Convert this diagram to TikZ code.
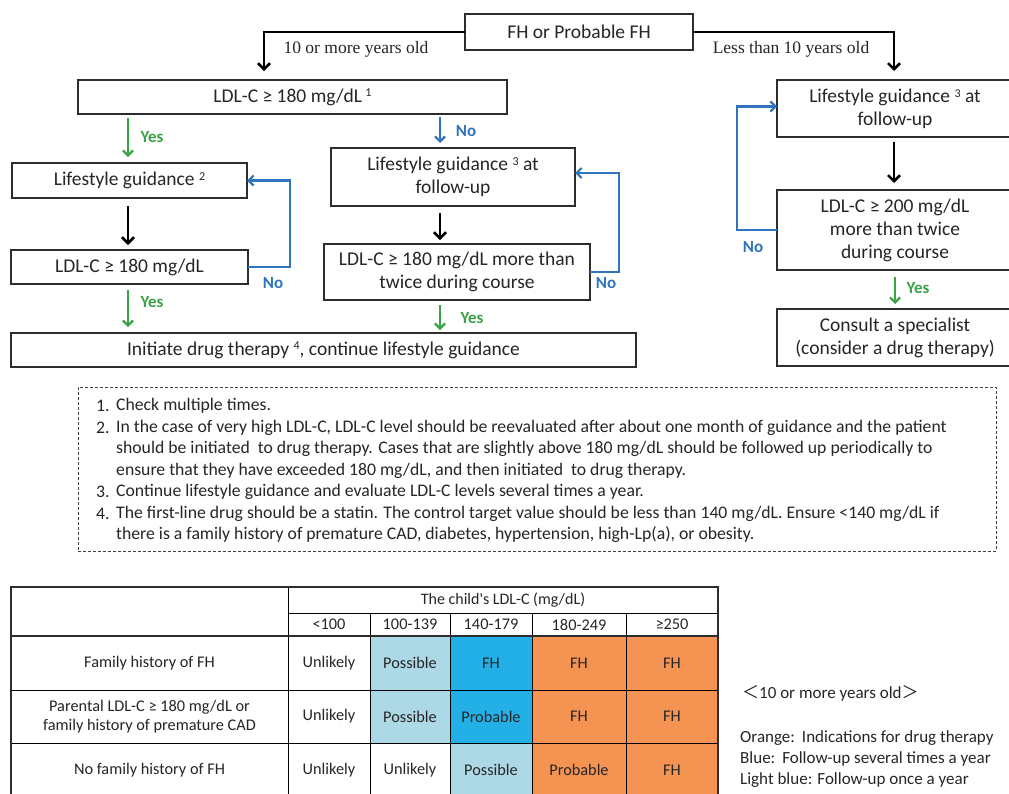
\documentclass[tikz,border=0pt]{standalone}
\usepackage{fontspec}
\setmainfont{Carlito}
\newfontfamily\seriffont{Liberation Serif}
\newfontfamily\cjkfont{Noto Sans CJK JP}
\newfontfamily\rawfont[Ligatures=ResetAll]{Carlito}
\usetikzlibrary{arrows.meta,calc}
\definecolor{ygreen}{RGB}{58,163,72}
\definecolor{nblue}{RGB}{46,117,190}
\definecolor{tlblue}{RGB}{173,216,230}
\definecolor{tblue}{RGB}{34,176,230}
\definecolor{torange}{RGB}{245,147,83}
\definecolor{boxline}{RGB}{45,45,45}
\definecolor{txt}{RGB}{38,38,38}
\newcommand\supr[1]{\raisebox{0.55ex}{\fontsize{12}{12}\selectfont #1}}
\begin{document}
\begin{tikzpicture}[x=1pt,y=-1pt,
  box/.style={draw=boxline, line width=1.1pt, align=center, inner sep=0pt, outer sep=0pt,
    text=txt, font=\fontsize{19.5}{23}\selectfont},
  blk/.style={draw=black, line width=2.5pt, -{Straight Barb[length=6pt,width=12pt]}},
  grn/.style={draw=ygreen, line width=2.2pt, -{Straight Barb[length=5pt,width=10pt]}},
  blu/.style={draw=nblue, line width=2.2pt, -{Straight Barb[length=5pt,width=10pt]}},
  yeslbl/.style={text=ygreen, font=\bfseries\fontsize{17}{17}\selectfont, inner sep=0pt},
  nolbl/.style={text=nblue, font=\bfseries\fontsize{17}{17}\selectfont, inner sep=0pt},
  agelbl/.style={font=\seriffont\fontsize{17.5}{17.5}\selectfont, inner sep=0pt, text=txt},
  note/.style={anchor=west, inner sep=0pt, text=txt, font=\fontsize{17.7}{17.7}\selectfont},
  cell/.style={draw=black, line width=0.6pt, inner sep=0pt, outer sep=0pt, align=center,
    text=txt, font=\fontsize{16.3}{19}\selectfont},
  legend/.style={anchor=west, inner sep=0pt, text=txt, font=\fontsize{17}{17}\selectfont}
]
\useasboundingbox (0,0) rectangle (1009,793);
\fill[white] (0,0) rectangle (1009,793);

% ---------- flowchart boxes ----------
\node[box, minimum width=228, minimum height=36] (top) at (579,32) {FH or Probable FH};
\node[box, minimum width=429, minimum height=34] (A) at (292.5,97) {LDL-C ≥ 180 mg/dL\,\supr{1}};
\node[box, minimum width=235, minimum height=35] (LG2) at (129.5,180.5) {Lifestyle guidance \supr{2}};
\node[box, minimum width=237, minimum height=34] (LDL2) at (129.5,267) {LDL-C ≥ 180 mg/dL};
\node[box, minimum width=244, minimum height=58] (mLG) at (453,177) {Lifestyle guidance \supr{3} at\\follow-up};
\node[box, minimum width=266, minimum height=56] (mLDL) at (457,272) {LDL-C ≥ 180 mg/dL more than\\twice during course};
\node[box, minimum width=625, minimum height=34] (final) at (323.5,350) {Initiate drug therapy \supr{4}, continue lifestyle guidance};
\node[box, minimum width=236, minimum height=57] (rLG) at (895,108.5) {Lifestyle guidance \supr{3} at\\follow-up};
\node[box, minimum width=236, minimum height=80] (rLDL) at (895,230) {LDL-C ≥ 200 mg/dL\\more than twice\\during course};
\node[box, minimum width=236, minimum height=57] (cons) at (895,337.5) {Consult a specialist\\(consider a drug therapy)};

% ---------- connectors ----------
\draw[blk, shorten >=9pt] (top.west) -| (A.north -| 264,0);
\draw[blk, shorten >=9pt] (top.east) -| (rLG.north -| 894,0);
\node[agelbl] (lbl10) at (356,49) {10 or more years old};
\node[agelbl] (lbllt) at (791,49) {Less than 10 years old};

\draw[grn, shorten <=4pt, shorten >=6pt] (A.south -| 128,0) -- (LG2.north -| 128,0);
\node[yeslbl] (y1) at (152,137) {Yes};
\draw[blu, shorten <=3pt, shorten >=5pt] (A.south -| 440,0) -- (mLG.north -| 440,0);
\node[nolbl] (n1) at (466,131) {No};

\draw[blk, shorten <=8pt, shorten >=5pt] (LG2.south -| 128,0) -- (LDL2.north -| 128,0);
\draw[blk, shorten <=7pt, shorten >=4pt] (mLG.south -| 440,0) -- (mLDL.north -| 440,0);
\draw[blk, shorten <=5pt, shorten >=7pt] (rLG.south -| 894,0) -- (rLDL.north -| 894,0);

\draw[blu] (LDL2.east) -- ++(42,0) |- (LG2.east);
\node[nolbl] (n2) at (273,283) {No};
\draw[blu] (mLDL.east) -- ++(29,0) |- ([yshift=4pt]mLG.east);
\node[nolbl] (n3) at (606,283) {No};
\draw[blu] (rLDL.west) -- ++(-40,0) |- ([yshift=2pt]rLG.west);
\node[nolbl] (n4) at (753,247) {No};

\draw[grn, shorten <=6pt, shorten >=6pt] (LDL2.south -| 128,0) -- (final.north -| 128,0);
\node[yeslbl] (y2) at (152,302) {Yes};
\draw[grn, shorten <=5pt, shorten >=3pt] (mLDL.south -| 440,0) -- (final.north -| 440,0);
\node[yeslbl] (y3) at (472,318) {Yes};
\draw[grn, shorten <=7pt, shorten >=5pt] (rLDL.south -| 895,0) -- (cons.north -| 895,0);
\node[yeslbl] (y4) at (918,288) {Yes};

% ---------- notes ----------
\node[draw=black!75, dashed, dash pattern=on 3pt off 2pt, line width=0.8pt, minimum width=918, minimum height=164, inner sep=0pt] (notes) at (537,469) {};
\node[note] (k1) at (96,406) {1.};
\node[note] (t1) at (116,406) {Check multiple times.};
\node[note] (k2) at (96,428) {2.};
\node[note] (t2a) at (116,428) {In the case of very high LDL-C, LDL-C level should be reevaluated after about one month of guidance and the patient};
\node[note] (t2b) at (116,449) {should be initiated\ \ to drug therapy. Cases that are slightly above 180 mg/dL should be followed up periodically to};
\node[note] (t2c) at (116,471) {ensure that they have exceeded 180 mg/dL, and then initiated\ \ to drug therapy.};
\node[note] (k3) at (96,492) {3.};
\node[note] (t3) at (116,492) {Continue lifestyle guidance and evaluate LDL-C levels several times a year.};
\node[note] (k4) at (96,514) {4.};
\node[note] (t4a) at (116,514) {The first-line drug should be a statin. The control target value should be less than 140 mg/dL. Ensure <140 mg/dL if};
\node[note] (t4b) at (116,535) {there is a family history of premature CAD, diabetes, hypertension, high-Lp(a), or obesity.};

% ---------- table ----------
\node[cell, minimum width=277, minimum height=49] (corner) at (149.5,611.5) {};
\node[cell, minimum width=430, minimum height=26, font=\rawfont\fontsize{16}{16}\selectfont] (hspan) at (503,600) {The child's LDL-C (mg/dL)};
\node[cell, minimum width=82, minimum height=23] (h1) at (329,624.5) {<100};
\node[cell, minimum width=80, minimum height=23] (h2) at (410,624.5) {100-139};
\node[cell, minimum width=82, minimum height=23] (h3) at (491,624.5) {140-179};
\node[cell, minimum width=94, minimum height=23] (h4) at (579,624.5) {180-249};
\node[cell, minimum width=92, minimum height=23] (h5) at (672,624.5) {≥250};

\node[cell, minimum width=277, minimum height=54] (r1) at (149.5,663) {Family history of FH};
\node[cell, minimum width=82, minimum height=54] (r1c1) at (329,663) {Unlikely};
\node[cell, minimum width=80, minimum height=54, fill=tlblue] (r1c2) at (410,663) {Possible};
\node[cell, minimum width=82, minimum height=54, fill=tblue] (r1c3) at (491,663) {FH};
\node[cell, minimum width=94, minimum height=54, fill=torange] (r1c4) at (579,663) {FH};
\node[cell, minimum width=92, minimum height=54, fill=torange] (r1c5) at (672,663) {FH};

\node[cell, minimum width=277, minimum height=53] (r2) at (149.5,716.5) {Parental LDL-C ≥ 180 mg/dL or\\family history of premature CAD};
\node[cell, minimum width=82, minimum height=53] (r2c1) at (329,716.5) {Unlikely};
\node[cell, minimum width=80, minimum height=53, fill=tlblue] (r2c2) at (410,716.5) {Possible};
\node[cell, minimum width=82, minimum height=53, fill=tblue] (r2c3) at (491,716.5) {Probable};
\node[cell, minimum width=94, minimum height=53, fill=torange] (r2c4) at (579,716.5) {FH};
\node[cell, minimum width=92, minimum height=53, fill=torange] (r2c5) at (672,716.5) {FH};

\node[cell, minimum width=277, minimum height=54] (r3) at (149.5,770) {No family history of FH};
\node[cell, minimum width=82, minimum height=54] (r3c1) at (329,770) {Unlikely};
\node[cell, minimum width=80, minimum height=54] (r3c2) at (410,770) {Unlikely};
\node[cell, minimum width=82, minimum height=54, fill=tlblue] (r3c3) at (491,770) {Possible};
\node[cell, minimum width=94, minimum height=54, fill=torange] (r3c4) at (579,770) {Probable};
\node[cell, minimum width=92, minimum height=54, fill=torange] (r3c5) at (672,770) {FH};

\draw[boxline, line width=1.6pt] (corner.north west) rectangle (r3c5.south east);
\draw[boxline, line width=1.2pt] (corner.south west) -- (h5.south east);

% ---------- legend ----------
\node[legend] (lg0) at (742,693) {{\cjkfont ＜}10 or more years old{\cjkfont ＞}};
\node[legend] (lg1) at (740,738) {Orange:\hspace{7pt}Indications for drug therapy};
\node[legend] (lg2) at (740,759) {Blue:\hspace{7pt}Follow-up several times a year};
\node[legend] (lg3) at (740,780) {Light blue: Follow-up once a year};
\end{tikzpicture}
\end{document}
